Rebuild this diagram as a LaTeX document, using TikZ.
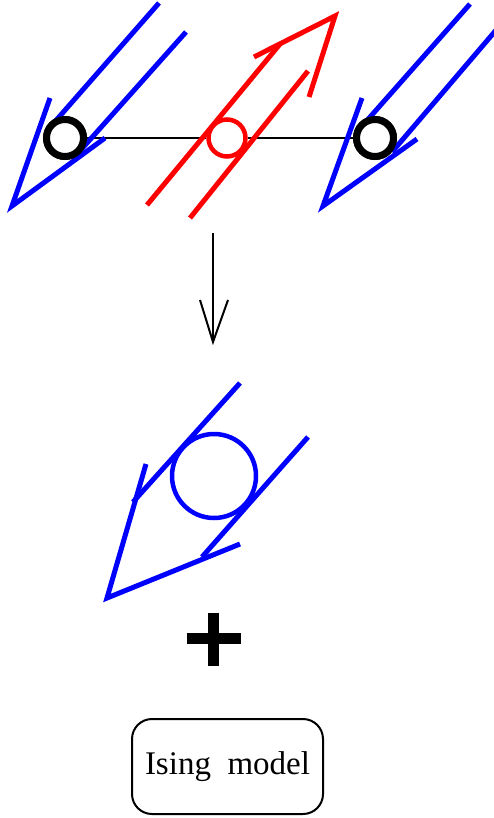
\documentclass[tikz,border=0pt]{standalone}
\usepackage{fontspec}
\setmainfont{Liberation Serif}
\begin{document}
\begin{tikzpicture}[x=1pt,y=-1pt,
  bluearrow/.style={draw=blue,line width=5pt},
  redarrow/.style={draw=red,line width=5pt},
  site/.style={circle,draw=black,fill=white,line width=7pt,minimum size=37pt,inner sep=0pt},
  redsite/.style={circle,draw=red,fill=white,line width=4.5pt,minimum size=37pt,inner sep=0pt},
  bond/.style={draw=black,line width=2pt},
  flowarrow/.style={draw=black,line width=2pt},
  modelbox/.style={draw=black,line width=2pt,rounded corners=20pt,minimum width=191pt,minimum height=95pt,font=\fontsize{33}{38}\selectfont}
]
\useasboundingbox (0,0) rectangle (494,818);
% sites
\node[redsite] (m) at (227,138) {};
\node[site] (l) at (65,138) {};
\node[site] (r) at (375,138) {};
\draw[bond] (l) -- (m) -- (r);
% left blue arrow
\draw[bluearrow] (159,3) -- (52,125);
\draw[bluearrow] (186,32) -- (79,152);
\draw[bluearrow] (50,98) -- (12,206) -- (105,138);
% right blue arrow
\draw[bluearrow] (470,4) -- (363,125);
\draw[bluearrow] (497,29) -- (392,152);
\draw[bluearrow] (362,98) -- (323,206) -- (417,139);
\node[site] at (l) {};
\node[site] at (r) {};
% red arrow
\draw[redarrow] (147,205) -- (280,44);
\draw[redarrow] (190,218) -- (308,71);
\draw[redarrow] (254,57) -- (335,16) -- (309,97);
% down arrow
\coordinate (a1) at (213,233);
\coordinate (a2) at (213,340);
\draw[flowarrow] (a1) -- (a2);
\draw[flowarrow] (200,300) -- (213,342) -- (228,300);
% bottom blue block spin
\node[circle,draw=blue,line width=4.5pt,minimum size=84pt,inner sep=0pt] (b) at (214,476) {};
\draw[bluearrow] (240,383) -- (133,502);
\draw[bluearrow] (308,437) -- (202,557);
\draw[bluearrow] (146,464) -- (107,598) -- (240,544);
% plus
\draw[line width=11pt] (213.5,613) -- (213.5,666);
\draw[line width=11pt] (187,638.5) -- (241,638.5);
% box
\node[modelbox] (ising) at (227.5,766.5) {Ising\ \ model};
\end{tikzpicture}
\end{document}
